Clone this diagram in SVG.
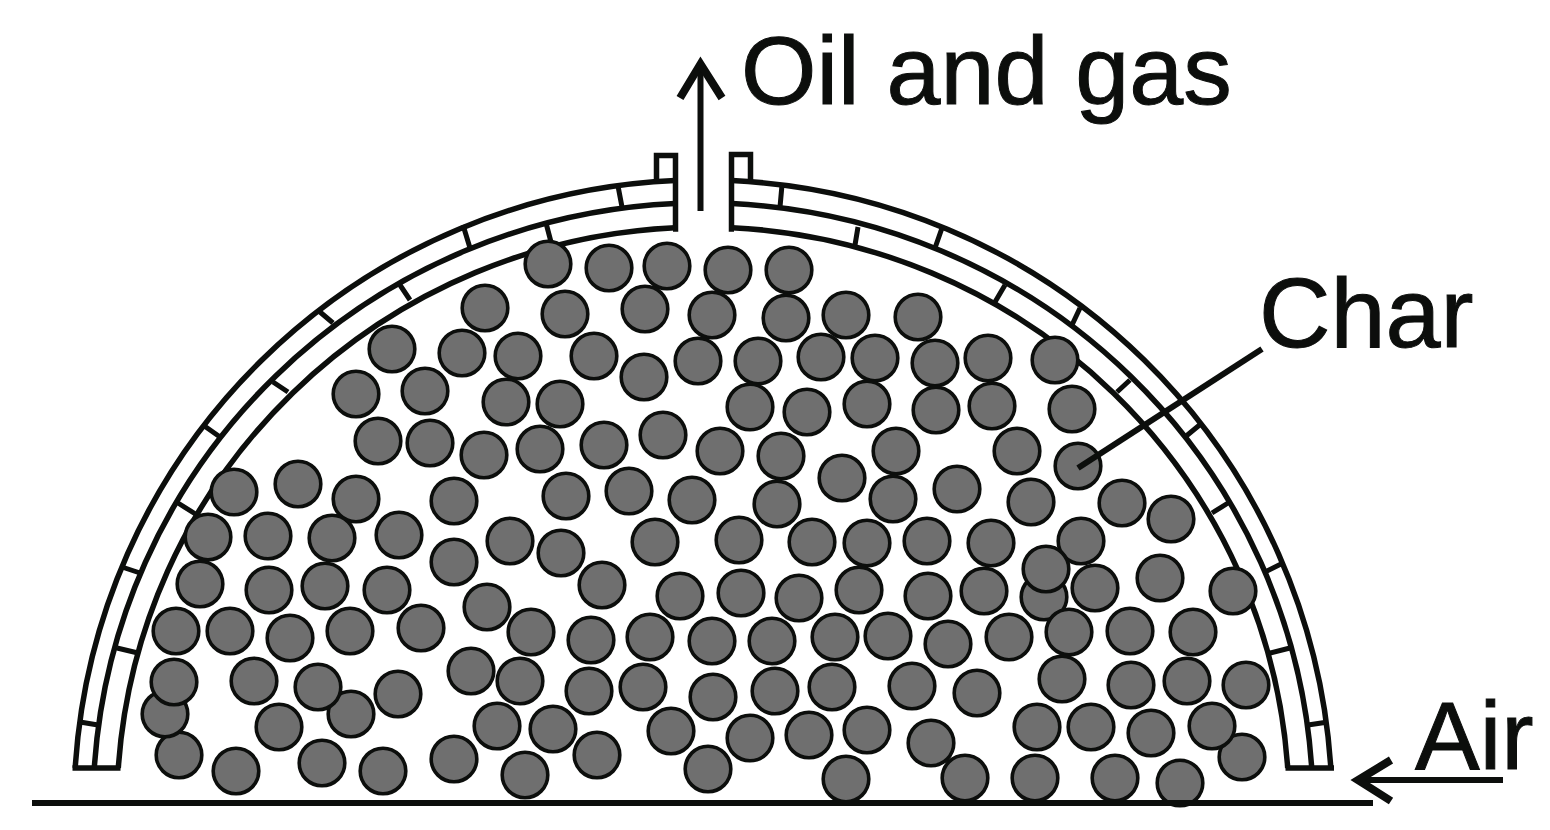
<svg xmlns="http://www.w3.org/2000/svg" width="1550" height="830" viewBox="0 0 1550 830">
<style>
.w{fill:none;stroke:#0c0e0c;stroke-width:5.5;stroke-linejoin:miter}
.t{fill:none;stroke:#0c0e0c;stroke-width:5}
.l{fill:none;stroke:#0c0e0c;stroke-width:6}
.h{fill:none;stroke:#0c0e0c;stroke-width:8}
#char circle{r:22.8px;fill:#6f6f6f;stroke:#0c0e0c;stroke-width:3.6}
text{font-family:"Liberation Sans",Arial,sans-serif;font-size:97px;fill:#0c0e0c;stroke:#0c0e0c;stroke-width:1}
</style>
<rect width="1550" height="830" fill="#fff"/>
<g id="furnace-wall">
<path class="w" d="M75.2 768A629 627 0 0 1 675 180.6M94.3 768A610 604 0 0 1 675 203.6M118.3 768A586 580 0 0 1 675 227.7"/>
<path class="w" d="M1330.8 768A629 627 0 0 0 732 180.6M1311.7 768A610 604 0 0 0 732 203.6M1287.7 768A586 580 0 0 0 732 227.7"/>
<path class="w" d="M656.5 182V155.5H675.5V229H673M750.5 182V154.5H731.5V229H734"/>
<path class="w" d="M72.5 768H120.5M1285.5 768H1334"/>
<path class="t" d="M618 186L622 207M463 225L470 248M320 312L333 323M203 425L220 437M122 567L140 573M80 722L98 725M546 223L551 242M400 285L410 300M273 382L288 392M178 503L197 515M117 648L138 653"/>
<path class="t" d="M782 185L780 207M942 228L935 248M1080 308L1072 325M1202 423L1185 437M1283 563L1265 572M1328 722L1308 725M858 227L855 245M1005 285L995 302M1130 380L1117 392M1228 503L1212 513M1290 648L1270 653"/>
</g>
<g id="char">
<circle cx="548" cy="264"/><circle cx="609" cy="268"/><circle cx="667" cy="266"/><circle cx="728" cy="270"/><circle cx="789" cy="270"/>
<circle cx="485" cy="308"/><circle cx="565" cy="314"/><circle cx="645" cy="309"/><circle cx="712" cy="315"/><circle cx="786" cy="318"/><circle cx="846" cy="315"/><circle cx="918" cy="317"/>
<circle cx="392" cy="349"/><circle cx="462" cy="353"/><circle cx="518" cy="356"/><circle cx="594" cy="356"/><circle cx="644" cy="377"/><circle cx="698" cy="361"/><circle cx="758" cy="361"/><circle cx="821" cy="357"/><circle cx="875" cy="358"/><circle cx="935" cy="363"/><circle cx="988" cy="358"/><circle cx="1055" cy="360"/>
<circle cx="356" cy="394"/><circle cx="425" cy="391"/><circle cx="506" cy="402"/><circle cx="560" cy="404"/><circle cx="750" cy="407"/><circle cx="807" cy="412"/><circle cx="867" cy="404"/><circle cx="936" cy="410"/><circle cx="992" cy="406"/><circle cx="1072" cy="409"/>
<circle cx="378" cy="441"/><circle cx="430" cy="443"/><circle cx="484" cy="455"/><circle cx="540" cy="449"/><circle cx="604" cy="445"/><circle cx="663" cy="435"/><circle cx="720" cy="451"/><circle cx="781" cy="456"/><circle cx="896" cy="451"/><circle cx="1017" cy="451"/><circle cx="1078" cy="466"/>
<circle cx="234" cy="492"/><circle cx="298" cy="484"/><circle cx="356" cy="499"/><circle cx="454" cy="501"/><circle cx="566" cy="496"/><circle cx="629" cy="491"/><circle cx="692" cy="500"/><circle cx="777" cy="504"/><circle cx="842" cy="478"/><circle cx="893" cy="499"/><circle cx="957" cy="489"/><circle cx="1031" cy="502"/><circle cx="1122" cy="503"/><circle cx="1171" cy="519"/>
<circle cx="208" cy="537"/><circle cx="268" cy="536"/><circle cx="332" cy="538"/><circle cx="399" cy="535"/><circle cx="510" cy="541"/><circle cx="561" cy="553"/><circle cx="454" cy="562"/><circle cx="655" cy="542"/><circle cx="739" cy="540"/><circle cx="812" cy="542"/><circle cx="867" cy="543"/><circle cx="927" cy="541"/><circle cx="991" cy="543"/><circle cx="1081" cy="541"/>
<circle cx="200" cy="584"/><circle cx="269" cy="590"/><circle cx="325" cy="586"/><circle cx="387" cy="590"/><circle cx="602" cy="585"/><circle cx="680" cy="596"/><circle cx="741" cy="593"/><circle cx="799" cy="598"/><circle cx="859" cy="590"/><circle cx="928" cy="596"/><circle cx="984" cy="591"/><circle cx="1044" cy="597"/><circle cx="1046" cy="569"/><circle cx="1095" cy="588"/><circle cx="1160" cy="578"/><circle cx="1233" cy="591"/>
<circle cx="487" cy="607"/><circle cx="176" cy="631"/><circle cx="230" cy="631"/><circle cx="290" cy="638"/><circle cx="350" cy="631"/><circle cx="421" cy="628"/><circle cx="531" cy="632"/><circle cx="591" cy="640"/><circle cx="650" cy="637"/><circle cx="712" cy="641"/><circle cx="772" cy="641"/><circle cx="835" cy="637"/><circle cx="888" cy="636"/><circle cx="948" cy="644"/><circle cx="1009" cy="637"/><circle cx="1069" cy="632"/><circle cx="1130" cy="631"/><circle cx="1193" cy="632"/>
<circle cx="179" cy="755"/><circle cx="165" cy="714"/><circle cx="174" cy="682"/><circle cx="471" cy="671"/><circle cx="254" cy="681"/><circle cx="351" cy="714"/><circle cx="318" cy="687"/><circle cx="398" cy="694"/><circle cx="520" cy="681"/><circle cx="589" cy="691"/><circle cx="643" cy="687"/><circle cx="713" cy="697"/><circle cx="775" cy="691"/><circle cx="832" cy="687"/><circle cx="912" cy="686"/><circle cx="977" cy="693"/><circle cx="1062" cy="679"/><circle cx="1131" cy="685"/><circle cx="1187" cy="681"/><circle cx="1246" cy="685"/>
<circle cx="1242" cy="757"/><circle cx="279" cy="727"/><circle cx="497" cy="726"/><circle cx="553" cy="729"/><circle cx="671" cy="731"/><circle cx="750" cy="738"/><circle cx="809" cy="735"/><circle cx="867" cy="730"/><circle cx="1037" cy="727"/><circle cx="1091" cy="727"/><circle cx="1151" cy="733"/><circle cx="1212" cy="726"/>
<circle cx="236" cy="771"/><circle cx="322" cy="763"/><circle cx="383" cy="771"/><circle cx="454" cy="759"/><circle cx="525" cy="775"/><circle cx="597" cy="755"/><circle cx="708" cy="769"/><circle cx="931" cy="743"/><circle cx="846" cy="779"/><circle cx="965" cy="778"/><circle cx="1035" cy="778"/><circle cx="1115" cy="778"/><circle cx="1180" cy="783"/>
</g>
<g id="connectors">
<path class="l" d="M32 803H1373"/>
<path class="l" d="M700.5 211V70"/>
<path class="h" d="M680 98L700.5 64L722 98"/>
<path class="l" d="M1503 780H1360"/>
<path class="h" d="M1391 760L1358 780L1391 801"/>
<path class="l" d="M1262 349L1078 468"/>
</g>
<g id="labels">
<text x="741" y="104">Oil and gas</text>
<text x="1259" y="347" style="font-size:99px">Char</text>
<text x="1415" y="769">Air</text>
</g>
</svg>
